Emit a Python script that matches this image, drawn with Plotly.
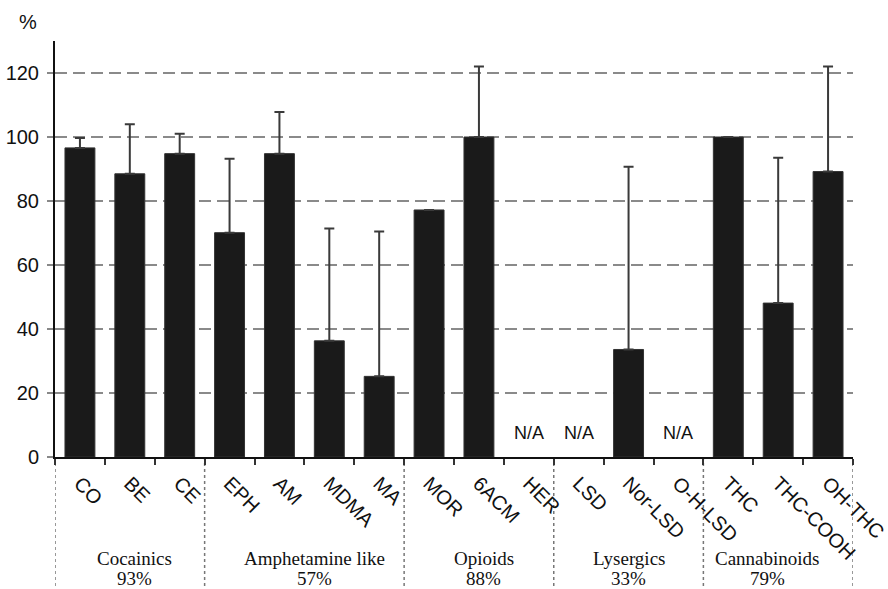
import plotly.graph_objects as go

categories = ["CO", "BE", "CE", "EPH", "AM", "MDMA", "MA", "MOR", "6ACM", "HER",
              "LSD", "Nor-LSD", "O-H-LSD", "THC", "THC-COOH", "OH-THC"]
values = [96.6, 88.5, 94.8, 70.1, 94.8, 36.3, 25.2, 77.2, 100.0, None,
          None, 33.6, None, 100.0, 48.1, 89.2]
err_upper = [3.1, 15.5, 6.2, 23.1, 13.0, 35.1, 45.3, None, 22.0, None,
             None, 57.1, None, None, 45.4, 32.8]
na_categories = ["HER", "LSD", "O-H-LSD"]
na_level = 7.5
group_names = ["Cocainics", "Amphetamine like", "Opioids", "Lysergics", "Cannabinoids"]
group_pct = ["93%", "57%", "88%", "33%", "79%"]
group_sizes = [3, 4, 3, 3, 3]
label_shift = [0.09, 0.21, 0.1, 0.0, -0.21]
y_ticks = [0, 20, 40, 60, 80, 100, 120]

fig = go.Figure()
fig.add_trace(go.Bar(
    x=categories, y=values, width=0.6,
    marker=dict(color="#1a1a1a", line=dict(color="#333333", width=1)),
    error_y=dict(type="data", symmetric=False, array=err_upper,
                 arrayminus=[0 if e is not None else None for e in err_upper],
                 color="#3a3a3a", thickness=2, width=5),
    showlegend=False,
))

annotations = []
for c in na_categories:
    annotations.append(dict(x=c, y=na_level, xref="x", yref="y", text="N/A",
                            showarrow=False, font=dict(family="Liberation Sans, Arial", size=18, color="#111")))

shapes = []
start = 0
bounds = [-0.5]
serif = dict(family="Liberation Serif, Times New Roman", size=19, color="#111")
for i, n in enumerate(group_sizes):
    center = start + (n - 1) / 2 + label_shift[i]
    annotations.append(dict(x=center, y=-0.245, xref="x", yref="paper", text=group_names[i],
                            showarrow=False, yanchor="middle", xanchor="center", font=serif))
    annotations.append(dict(x=center, y=-0.291, xref="x", yref="paper", text=group_pct[i],
                            showarrow=False, yanchor="middle", xanchor="center", font=serif))
    start += n
    bounds.append(start - 0.5)

for b in bounds:
    shapes.append(dict(type="line", xref="x", yref="paper", x0=b, x1=b, y0=0, y1=-0.33,
                       line=dict(color="#777777", width=1.5, dash="dot"), layer="below"))

annotations.append(dict(x=-0.034, y=1.046, xref="paper", yref="paper", text="%",
                        xanchor="center", yanchor="middle",
                        showarrow=False, font=dict(family="Liberation Sans, Arial", size=20, color="#111")))

fig.update_layout(
    width=888, height=589,
    margin=dict(l=55, r=35, t=41, b=132, autoexpand=False),
    plot_bgcolor="white", paper_bgcolor="white",
    bargap=0.4,
    annotations=annotations,
    shapes=shapes,
    xaxis=dict(
        type="category", showgrid=False, showline=True, linecolor="#111", linewidth=2,
        ticks="outside", tickson="boundaries", ticklen=6, tickwidth=2, tickcolor="#333",
        tickangle=45, tickfont=dict(family="Liberation Sans, Arial", size=20, color="#111"),
        ticklabelstandoff=5, automargin=False,
        range=[-0.5, 15.5], fixedrange=True,
    ),
    yaxis=dict(
        range=[0, 130], tickvals=y_ticks, showline=True, linecolor="#111", linewidth=2,
        ticks="outside", ticklen=6, tickwidth=2, tickcolor="#888",
        showgrid=True, gridcolor="#8a8a8a", gridwidth=2, griddash="12px,6px",
        zeroline=False, automargin=False, ticklabelstandoff=4, fixedrange=True,
        tickfont=dict(family="Liberation Sans, Arial", size=20, color="#111"),
    ),
)

fig.write_html("out.html", config={"displayModeBar": False},
               post_script="document.body.style.margin='0';document.body.style.overflow='hidden';")
